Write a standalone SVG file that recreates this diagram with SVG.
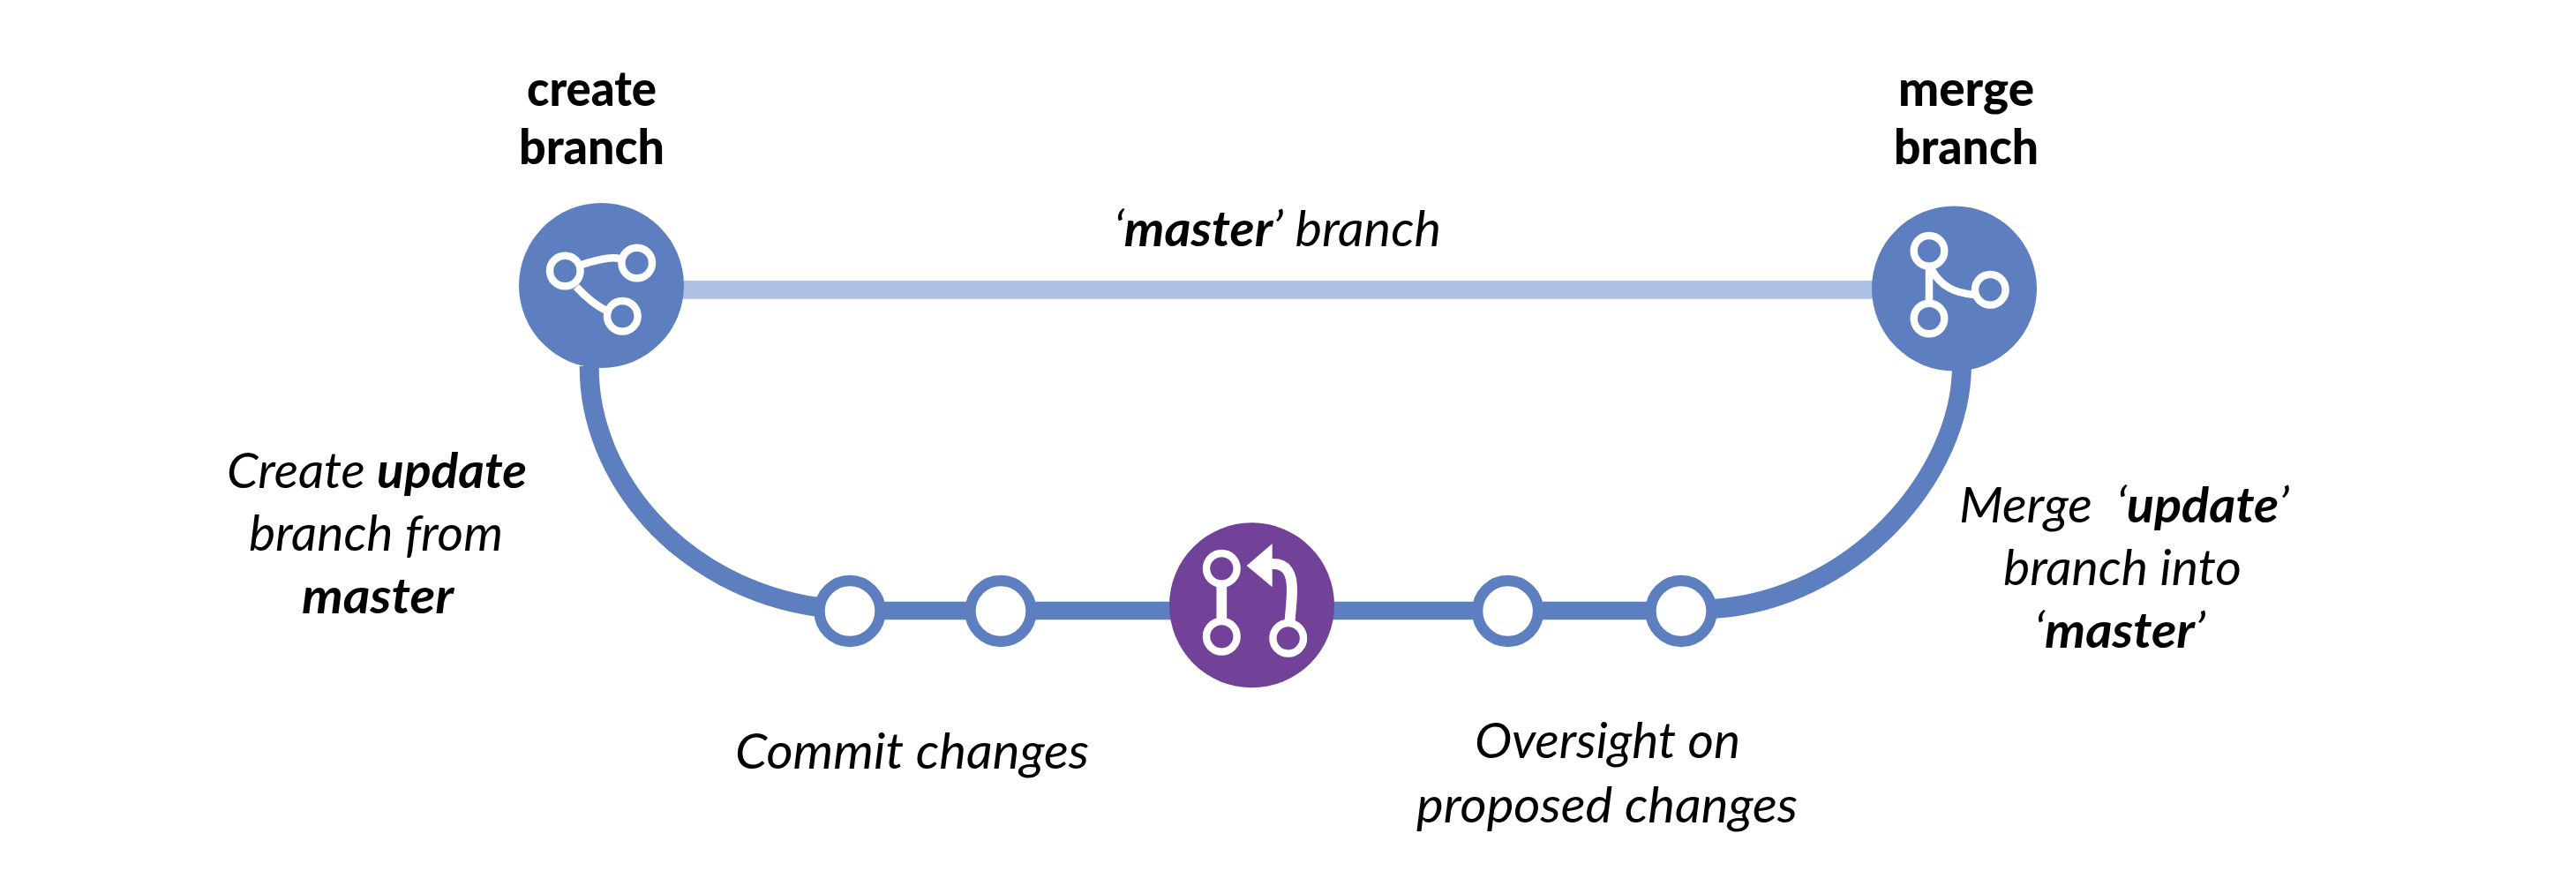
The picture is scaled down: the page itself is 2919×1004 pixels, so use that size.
<svg xmlns="http://www.w3.org/2000/svg" width="2919" height="1004" viewBox="0 0 2919 1004">
<style>
text{font-family:"Lato","Open Sans","Liberation Sans",sans-serif;fill:#000;white-space:pre}
.t{font-size:56px;font-weight:900}
.l{font-size:56px;font-style:italic}
.b{font-weight:700}
.conn{fill:none;stroke:#5e7fbf;stroke-width:22}
.ic{fill:none;stroke:#fff;stroke-width:8.4}
.ill{fill:none;stroke:#fff;stroke-width:8.5}
.dot{fill:#fff;stroke:#5e7fbf;stroke-width:12.4}
</style>
<rect width="2919" height="1004" fill="#fff"/>
<g id="connectors">
<path d="M770 328.3H2125" fill="none" stroke="#adc1e4" stroke-width="20.7"/>
<path class="conn" d="M667.7 415C667 540 770 665 927 688"/>
<path class="conn" d="M2223 415C2222 540 2100 680 1940 690"/>
<path d="M963 692H1905" fill="none" stroke="#5e7fbf" stroke-width="20.7"/>
</g>
<g id="create-branch">
<circle cx="681.5" cy="323.5" r="93.5" fill="#5e7fbf"/>
<path class="ill" d="M659 300C683 292 695 291 702 293M653 325C665 338 675 346 687 352"/>
<circle class="ic" cx="640.3" cy="307" r="17.3"/><circle class="ic" cx="721.7" cy="298" r="17.3"/><circle class="ic" cx="705.3" cy="358.3" r="17.3"/>
<text class="t" x="597" y="120" textLength="147" lengthAdjust="spacingAndGlyphs">create</text><text class="t" x="588" y="186" textLength="165" lengthAdjust="spacingAndGlyphs">branch</text>
</g>
<g id="merge-branch">
<circle cx="2214.5" cy="327" r="93.5" fill="#5e7fbf"/>
<path class="ill" d="M2186 300V345M2189 306C2200 325 2215 332 2237 334"/>
<circle class="ic" cx="2186" cy="284.3" r="17.3"/><circle class="ic" cx="2186" cy="361" r="17.3"/><circle class="ic" cx="2255.3" cy="328.3" r="17.3"/>
<text class="t" x="2151" y="120" textLength="154" lengthAdjust="spacingAndGlyphs">merge</text><text class="t" x="2146" y="186" textLength="164" lengthAdjust="spacingAndGlyphs">branch</text>
</g>
<g id="pull-request">
<circle cx="1418.5" cy="685.8" r="93.5" fill="#714297"/>
<path d="M1384.3 660V705" fill="none" stroke="#fff" stroke-width="11.7"/>
<path d="M1441 639C1458 638 1464 650 1464 668C1464 682 1462 695 1461.5 706" fill="none" stroke="#fff" stroke-width="12"/>
<path d="M1412.7 641L1441.7 616V665.3Z" fill="#fff"/>
<circle class="ic" cx="1384.3" cy="644.3" r="17.3"/><circle class="ic" cx="1384.3" cy="721.3" r="17.3"/><circle class="ic" cx="1459.7" cy="723.3" r="17.3"/>
</g>
<g id="commit-1"><circle class="dot" cx="963" cy="692.5" r="34.5"/></g>
<g id="commit-2"><circle class="dot" cx="1134" cy="692.5" r="34.5"/></g>
<g id="review-1"><circle class="dot" cx="1708.6" cy="692.5" r="34.5"/></g>
<g id="review-2"><circle class="dot" cx="1905" cy="692.5" r="34.5"/></g>
<g id="labels">
<text class="l" x="1262" y="279" textLength="371" lengthAdjust="spacingAndGlyphs">‘<tspan class="b">master</tspan>’ branch</text>
<text class="l" x="257" y="553" textLength="340" lengthAdjust="spacingAndGlyphs">Create <tspan class="b">update</tspan></text>
<text class="l" x="282" y="624" textLength="288" lengthAdjust="spacingAndGlyphs">branch from</text>
<text class="l b" x="342" y="695" textLength="172" lengthAdjust="spacingAndGlyphs">master</text>
<text class="l" x="833" y="871" textLength="401" lengthAdjust="spacingAndGlyphs">Commit changes</text>
<text class="l" x="2220" y="592" textLength="374" lengthAdjust="spacingAndGlyphs">Merge  ‘<tspan class="b">update</tspan>’</text>
<text class="l" x="2270" y="663" textLength="270" lengthAdjust="spacingAndGlyphs">branch into</text>
<text class="l" x="2305" y="734" textLength="194" lengthAdjust="spacingAndGlyphs">‘<tspan class="b">master</tspan>’</text>
<text class="l" x="1671" y="859" textLength="301" lengthAdjust="spacingAndGlyphs">Oversight on</text>
<text class="l" x="1605" y="932" textLength="432" lengthAdjust="spacingAndGlyphs">proposed changes</text>
</g>
</svg>
